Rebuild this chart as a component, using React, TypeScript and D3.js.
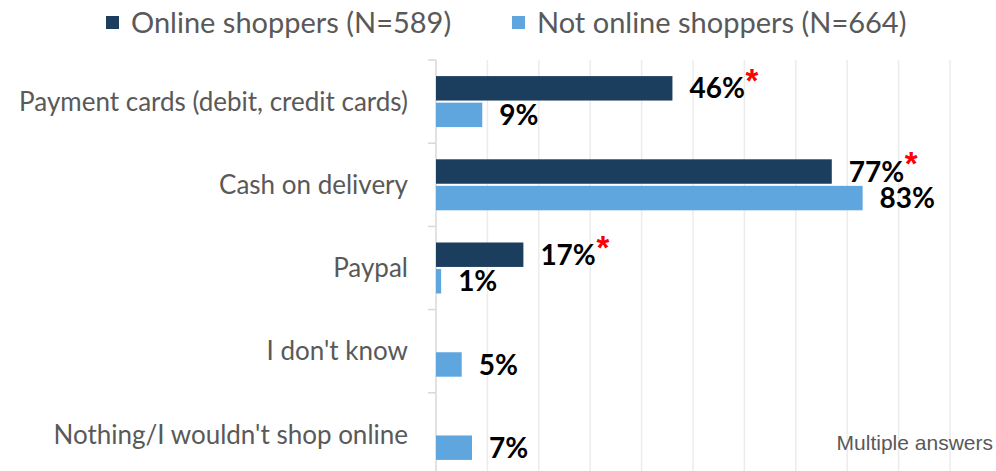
import { useEffect } from 'react';
import * as d3 from 'd3';

const categories = [
  'Payment cards (debit, credit cards)',
  'Cash on delivery',
  'Paypal',
  "I don't know",
  "Nothing/I wouldn't shop online",
];
const seriesNames = ['Online shoppers (N=589)', 'Not online shoppers (N=664)'];
const onlineValues = [46, 77, 17, null, null];
const notOnlineValues = [9, 83, 1, 5, 7];
const significant = [true, true, true, false, false];
const gridTicks = [10, 20, 30, 40, 50, 60, 70, 80, 90, 100];

const W = 996;
const H = 471;
const COLORS = ['#1b3d5e', '#5fa5de'];
const LABEL_FONT = 'Lato, "Open Sans", sans-serif';

export default function App() {
  useEffect(() => {
    document.body.style.margin = '0';
  }, []);

  const x = d3.scaleLinear().domain([0, 100]).range([436, 950]);
  const y = d3.scaleBand<string>().domain(categories).range([60, 476]);
  const seriesValues = [onlineValues, notOnlineValues];

  return (
    <svg width={W} height={H} style={{ display: 'block' }}>
      <rect width={W} height={H} fill="#fff" />

      {/* legend */}
      <g fontFamily={LABEL_FONT} fontSize={29} fill="#595959">
        <rect x={106} y={16} width={13} height={13} fill={COLORS[0]} />
        <text x={131} y={33}>{seriesNames[0]}</text>
        <rect x={512} y={16} width={13} height={13} fill={COLORS[1]} />
        <text x={537} y={33}>{seriesNames[1]}</text>
      </g>

      {/* gridlines */}
      {gridTicks.map((t) => (
        <line key={t} x1={x(t)} x2={x(t)} y1={60} y2={H} stroke="#ececec" strokeWidth={1.5} />
      ))}

      {/* category axis */}
      <line x1={x(0)} x2={x(0)} y1={60} y2={H} stroke="#d9d9d9" strokeWidth={1.5} />
      {[...categories.map((c) => y(c)!), 476].map((v, i) => (
        <line key={i} x1={428} x2={x(0)} y1={v} y2={v} stroke="#d9d9d9" strokeWidth={1.5} />
      ))}

      {categories.map((c, ci) => {
        const center = y(c)! + y.bandwidth() / 2;
        const sub = d3
          .scaleBand<number>()
          .domain([0, 1])
          .range([center - 25.5, center + 25.5])
          .paddingInner(0.08);
        return (
          <g key={c}>
            <text
              x={408}
              y={center}
              dy="0.35em"
              textAnchor="end"
              fontFamily={LABEL_FONT}
              fontSize={26}
              fill="#595959"
            >
              {c}
            </text>
            {seriesValues.map((vals, si) => {
              const v = vals[ci];
              if (v == null) return null;
              const by = sub(si)!;
              const bh = sub.bandwidth();
              return (
                <g key={si}>
                  <rect x={x(0)} y={by} width={x(v) - x(0)} height={bh} fill={COLORS[si]} />
                  <text
                    x={x(v) + 17}
                    y={by + bh / 2}
                    dy="0.36em"
                    fontFamily={LABEL_FONT}
                    fontWeight="bold"
                    fontSize={28}
                    fill="#000"
                  >
                    {`${v}%`}
                  </text>
                  {si === 0 && significant[ci] ? (
                    <text
                      x={x(v) + 17 + (v >= 10 ? 56 : 40)}
                      y={by + 16}
                      fill="#ff0000"
                      fontWeight="bold"
                      fontSize={33}
                      fontFamily="'Liberation Sans', Arial, sans-serif"
                    >
                      *
                    </text>
                  ) : null}
                </g>
              );
            })}
          </g>
        );
      })}

      <text x={993} y={450} textAnchor="end" fontFamily="Liberation Sans, Arial, sans-serif" fontSize={21} fill="#595959">
        Multiple answers
      </text>
    </svg>
  );
}
